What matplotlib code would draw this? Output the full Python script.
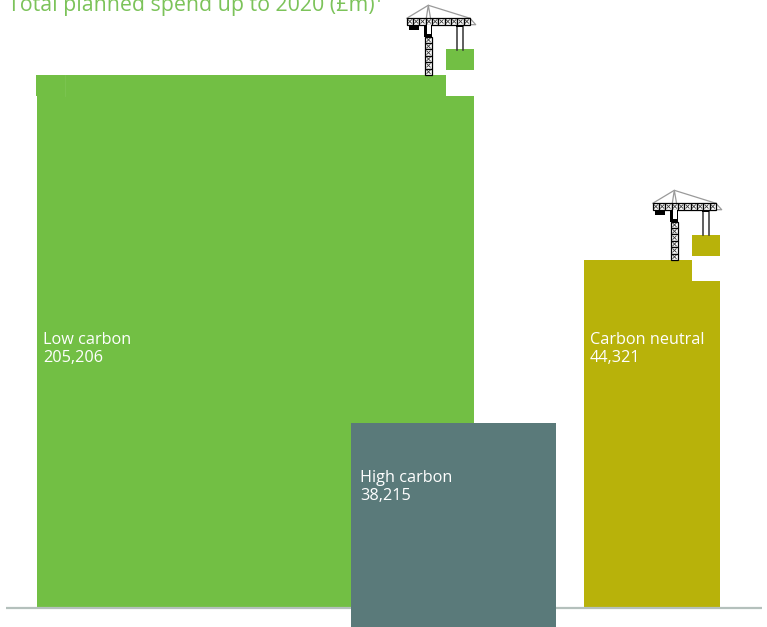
import matplotlib
matplotlib.use("Agg")
import matplotlib.pyplot as plt
from matplotlib.patches import Polygon, Rectangle

# planned spend by type (in £m)
categories = ["Low carbon", "High carbon", "Carbon neutral"]
spend = [205206, 38215, 44321]
spend_labels = ["205,206", "38,215", "44,321"]
title = "Total planned spend up to 2020 (£m)¹"

GREEN = "#72BF44"
TEAL = "#5A7A7A"
OLIVE = "#B8B20A"
AXIS_GREY = "#B4C0BC"

# layout in pixels, the axes run over the whole figure
base_y = 608
lefts = {"Low carbon": 37, "High carbon": 351, "Carbon neutral": 584}
widths = {"Low carbon": 437, "High carbon": 205, "Carbon neutral": 136}
bottoms = {"Low carbon": base_y, "High carbon": 627, "Carbon neutral": base_y}
# square pixels per £m for each block
area_scale = {"Low carbon": 1.1351, "High carbon": 1.0943, "Carbon neutral": 1.0678}
colors = {"Low carbon": GREEN, "High carbon": TEAL, "Carbon neutral": OLIVE}
label_pos = {"Low carbon": (43, 344), "High carbon": (360, 482), "Carbon neutral": (590, 344)}

plt.rcParams["font.family"] = ["Open Sans", "DejaVu Sans"]

fig = plt.figure(figsize=(7.67, 6.27), dpi=100)
ax = fig.add_axes([0, 0, 1, 1])
ax.set_xlim(0, 767)
ax.set_ylim(627, 0)
ax.axis("off")


def draw_crane(x0, y0):
    # x0, y0 is the left end of the jib top
    black = "black"
    grey = "#9a9a9a"
    apex = (x0 + 21.6, y0 - 13)
    jib_w = 63.3
    jib_h = 6.4

    # stays from the tip of the mast
    ax.plot([x0, apex[0], x0 + jib_w], [y0, apex[1], y0], color=grey, lw=0.9, zorder=3)
    ax.plot([x0 + 18.6, apex[0], x0 + 25], [y0 + jib_h, apex[1], y0 + jib_h], color=grey, lw=0.9, zorder=3)
    ax.plot([x0 + jib_w, x0 + jib_w + 5.7, x0 + jib_w], [y0, y0 + jib_h, y0 + jib_h], color=grey, lw=0.9, zorder=3)

    # jib lattice
    n_jib = 10
    cell = jib_w / n_jib
    for i in range(n_jib):
        cx = x0 + i * cell
        ax.add_patch(Rectangle((cx, y0), cell, jib_h, fc="white", ec=black, lw=0.9, zorder=4))
        ax.plot([cx + 1.5, cx + cell - 1.5], [y0 + 1.5, y0 + jib_h - 1.5], color="#333333", lw=0.6, zorder=5)
        ax.plot([cx + 1.5, cx + cell - 1.5], [y0 + jib_h - 1.5, y0 + 1.5], color="#333333", lw=0.6, zorder=5)

    # counterweight
    ax.add_patch(Rectangle((x0 + 2.3, y0 + jib_h), 10, 5, fc=black, ec="none", zorder=4))

    # cab under the jib
    ax.add_patch(Rectangle((x0 + 17.6, y0 + jib_h), 8, 12, fc=black, ec="none", zorder=4))
    ax.add_patch(Rectangle((x0 + 20, y0 + jib_h), 4, 9.5, fc="white", ec="none", zorder=5))

    # mast lattice
    n_mast = 6
    mast_top = y0 + 18.4
    mast_h = (y0 + 56.7 - mast_top) / n_mast
    mx = x0 + 18.6
    mw = 6.4
    for i in range(n_mast):
        my = mast_top + i * mast_h
        ax.add_patch(Rectangle((mx, my), mw, mast_h, fc="white", ec=black, lw=0.9, zorder=4))
        ax.plot([mx + 1.5, mx + mw - 1.5], [my + 1.5, my + mast_h - 1.5], color="#333333", lw=0.6, zorder=5)
        ax.plot([mx + 1.5, mx + mw - 1.5], [my + mast_h - 1.5, my + 1.5], color="#333333", lw=0.6, zorder=5)

    # hoist ropes and trolley
    ax.plot([x0 + 50, x0 + 50], [y0 + jib_h, y0 + 32], color="#333333", lw=1.1, zorder=3)
    ax.plot([x0 + 56, x0 + 56], [y0 + jib_h, y0 + 32], color="#333333", lw=1.1, zorder=3)
    ax.add_patch(Rectangle((x0 + 49.5, y0 + jib_h), 7, 2, fc=black, ec="none", zorder=4))


for name, value, value_label in zip(categories, spend, spend_labels):
    left = lefts[name]
    width = widths[name]
    bottom = bottoms[name]
    height = value * area_scale[name] / width
    top = bottom - height
    color = colors[name]

    if name == "High carbon":
        ax.add_patch(Rectangle((left, top), width, height, fc=color, ec="none", zorder=2.5))
    else:
        # one piece of the block is missing from the corner, the crane lifts it
        piece_w = 28
        piece_h = 21
        right = left + width
        pts = [(left, bottom), (left, top), (right - piece_w, top),
               (right - piece_w, top + piece_h), (right, top + piece_h), (right, bottom)]
        ax.add_patch(Polygon(pts, closed=True, fc=color, ec="none", zorder=2))
        ax.add_patch(Rectangle((right - piece_w, top - 25.5), piece_w, piece_h, fc=color, ec="none", zorder=2))
        draw_crane(right - 67.3, top - 56.7)

    x, y = label_pos[name]
    ax.text(x, y, name, color="white", fontsize=11.7, zorder=6, va="baseline")
    ax.text(x, y + 18, value_label, color="white", fontsize=11.7, zorder=6, va="baseline")

# axis line runs over the foot of the blocks, the high carbon block hangs over it
ax.plot([6, 762], [608, 608], color=AXIS_GREY, lw=1.6, zorder=2.2, solid_capstyle="butt")

# small step and seam at the top left of the big block
ax.add_patch(Rectangle((36, 75), 28, 21, fc=GREEN, ec="none", zorder=2))
ax.plot([64.5, 64.5], [75, 96], color="#7CC452", lw=0.6, zorder=2.2)

ax.text(8, 11, title, color="#7CC35A", fontsize=15.4, va="baseline")

fig.savefig("out.png", dpi=100)
